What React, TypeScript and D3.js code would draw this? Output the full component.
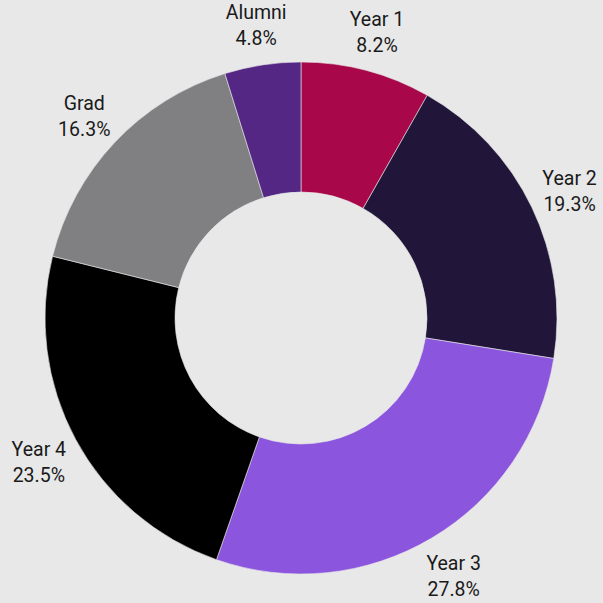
import React from "react";
import * as d3 from "d3";

const categories = ["Year 1", "Year 2", "Year 3", "Year 4", "Grad", "Alumni"];
const values = [8.2, 19.3, 27.8, 23.5, 16.3, 4.8];
const colors = ["#a8084a", "#21153a", "#8b55dd", "#000000", "#808083", "#532783"];

export default function App() {
  const W = 603, H = 603;
  const cx = 301, cy = 318;
  const outerR = 256, innerR = 126, labelR = 298;
  const data = categories.map((c, i) => ({ c, v: values[i], color: colors[i] }));
  const pie = d3.pie<any>().value((d) => d.v).sort(null);
  const arcs = pie(data);
  const arc = d3.arc<any>().innerRadius(innerR).outerRadius(outerR);
  return (
    <svg width={W} height={H} style={{ position: "absolute", left: 0, top: 0, background: "#e8e8e8" }}
      fontFamily="Roboto, 'Noto Sans', sans-serif">
      <rect width={W} height={H} fill="#e8e8e8" />
      <g transform={`translate(${cx},${cy})`}>
        {arcs.map((a, i) => (
          <path key={i} d={arc(a) as string} fill={a.data.color} stroke="#e8e8e8" strokeWidth={0.6} />
        ))}
        {arcs.map((a, i) => {
          const m = (a.startAngle + a.endAngle) / 2;
          const x = labelR * Math.sin(m);
          const y = -labelR * Math.cos(m);
          return (
            <text key={"t" + i} x={x} y={y} textAnchor="middle" fontSize={19.5} fontWeight={400} fill="#1a1a1a">
              <tspan x={x} y={y - 4}>{a.data.c}</tspan>
              <tspan x={x} y={y + 22}>{a.data.v.toFixed(1)}%</tspan>
            </text>
          );
        })}
      </g>
    </svg>
  );
}
